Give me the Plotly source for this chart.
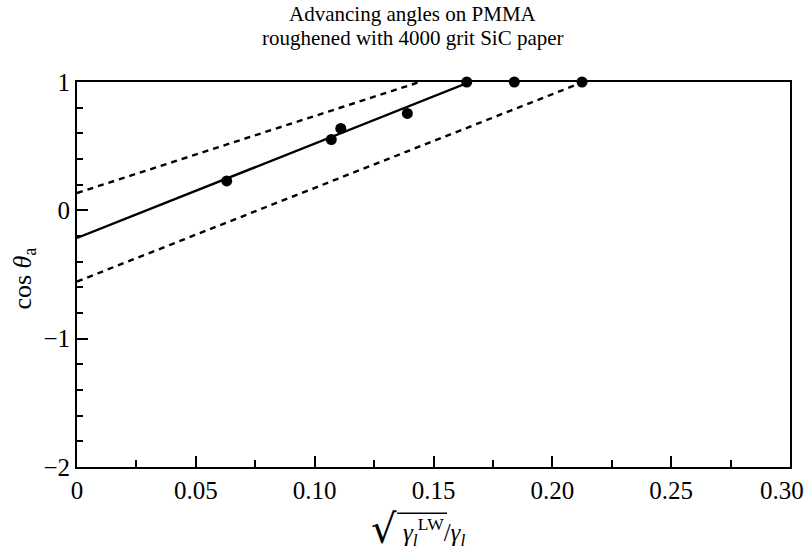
import numpy as np
import plotly.graph_objects as go

# Measured advancing contact angles (cos theta_a) vs sqrt(gamma_LW)/gamma
x_data = [0.063, 0.107, 0.111, 0.139, 0.164, 0.184, 0.2125]
cos_theta = [0.229, 0.552, 0.638, 0.755, 1.0, 1.0, 1.0]

# Fitted line and its confidence bounds: intercept, slope
fit_names = ["fit", "upper bound", "lower bound"]
fit_intercepts = [-0.215, 0.135, -0.555]
fit_slopes = [7.35, 6.0, 7.3]
fit_dash = ["solid", "dash", "dash"]

x_ticks = [0, 0.05, 0.10, 0.15, 0.20, 0.25, 0.30]
x_ticktext = ["0", "0.05", "0.10", "0.15", "0.20", "0.25", "0.30"]
y_ticks = [1, 0, -1, -2]
y_ticktext = ["1", "0", "\u22121", "\u22122"]

title_lines = ["Advancing angles on PMMA", "roughened with 4000 grit SiC paper"]

SERIF = "Liberation Serif"
TICK_SIZE = 25

fig = go.Figure()

for name, b, m, dash in zip(fit_names, fit_intercepts, fit_slopes, fit_dash):
    x_end = (1.0 - b) / m  # where cos theta reaches 1
    xs = np.array([0.0, x_end])
    fig.add_trace(go.Scatter(
        x=xs, y=b + m * xs, mode="lines", name=name,
        line=dict(color="black", width=2.4, dash="6px,5px" if dash == "dash" else "solid"),
        showlegend=False, hoverinfo="skip", cliponaxis=False,
    ))

fig.add_trace(go.Scatter(
    x=x_data, y=cos_theta, mode="markers",
    marker=dict(color="black", size=11),
    showlegend=False, cliponaxis=False,
))

axis_common = dict(
    showgrid=False, zeroline=False, showline=True, linecolor="black",
    linewidth=2, mirror=True, ticks="inside", tickwidth=2, tickcolor="black",
    tickfont=dict(family=SERIF, size=TICK_SIZE, color="black"),
    automargin=False,
)

# the final x label is drawn right-aligned so it stays inside the page
fig.update_xaxes(
    range=[0, 0.300001], tickvals=x_ticks, ticktext=x_ticktext[:-1] + [""], ticklen=11,
    minor=dict(ticks="inside", dtick=0.025, tick0=0, ticklen=7, tickwidth=2, tickcolor="black"),
    **axis_common,
)
fig.update_yaxes(
    range=[-2, 1], tickvals=y_ticks, ticktext=y_ticktext, ticklen=11,
    minor=dict(ticks="inside", dtick=0.2, tick0=0, ticklen=6, tickwidth=2, tickcolor="black"),
    **axis_common,
)

fig.update_layout(
    width=808, height=552,
    margin=dict(l=77, r=18, t=82, b=85, autoexpand=False),
    paper_bgcolor="white", plot_bgcolor="white",
)

fig.add_annotation(
    text=x_ticktext[-1], xref="x", yref="paper", x=x_ticks[-1], y=-0.061,
    xanchor="right", yanchor="middle", xshift=16, showarrow=False,
    font=dict(family=SERIF, size=TICK_SIZE, color="black"),
)

# two-line title
for text, ypos in zip(title_lines, [1.177, 1.114]):
    fig.add_annotation(
        text=text, xref="paper", yref="paper", x=0.471, y=ypos,
        xanchor="center", yanchor="middle", showarrow=False,
        font=dict(family=SERIF, size=21, color="black"),
    )

# y-axis label
fig.add_annotation(
    text="cos <i>\u03b8</i><sub>a</sub>", textangle=-90,
    xref="paper", yref="paper", x=-0.074, y=0.49, xanchor="center", yanchor="middle",
    showarrow=False, font=dict(family=SERIF, size=26, color="black"),
)

# x-axis label: radical sign, radicand and divisor
fig.add_annotation(
    text="\u221a", xref="paper", yref="paper", x=0.452, y=-0.16,
    xanchor="right", yanchor="middle", showarrow=False,
    font=dict(family="DejaVu Serif", size=40, color="black"),
)
fig.add_annotation(
    text="<i>\u03b3</i><sub><i>l</i></sub><sup>LW</sup>/<i>\u03b3</i><sub><i>l</i></sub>",
    xref="paper", yref="paper", x=0.454, y=-0.168,
    xanchor="left", yanchor="middle", showarrow=False,
    font=dict(family=SERIF, size=25, color="black"),
)
fig.add_shape(
    type="line", xref="paper", yref="paper",
    x0=0.449, x1=0.519, y0=-0.12, y1=-0.12,
    line=dict(color="black", width=1.5),
)

fig.write_html("out.html")
